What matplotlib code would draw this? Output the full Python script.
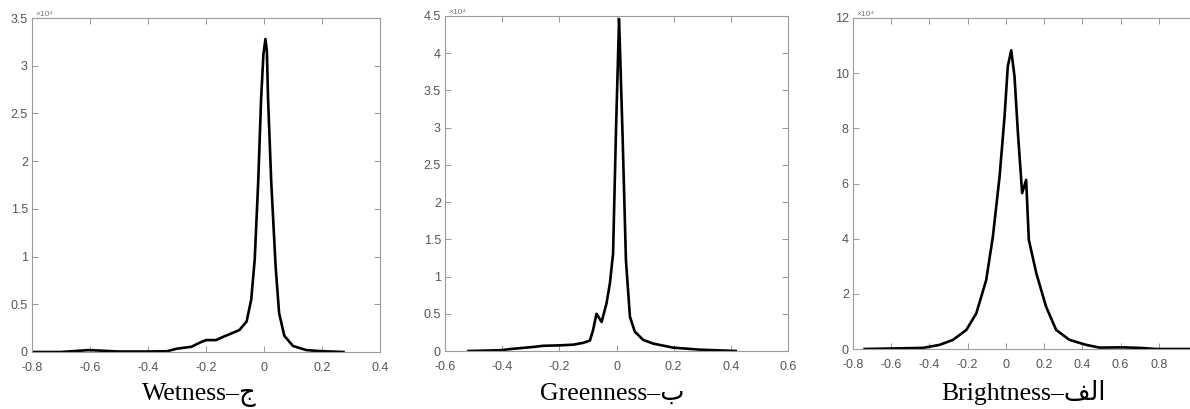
import matplotlib
matplotlib.use('Agg')
import matplotlib.pyplot as plt
import numpy as np

# Wetness (ج)
wet_x = [-0.80, -0.70, -0.604, -0.50, -0.40, -0.335, -0.30, -0.25, -0.22, -0.20,
         -0.165, -0.14, -0.12, -0.085, -0.06, -0.044, -0.032, -0.02, -0.01, -0.002,
         0.005, 0.01, 0.014, 0.025, 0.04, 0.052, 0.07, 0.10, 0.146, 0.19, 0.274]
wet_y = [0.0, 0.0, 0.02, 0.005, 0.005, 0.008, 0.035, 0.055, 0.10, 0.125,
         0.125, 0.16, 0.185, 0.23, 0.32, 0.55, 0.97, 1.78, 2.65, 3.12,
         3.28, 3.15, 2.65, 1.78, 0.90, 0.41, 0.17, 0.063, 0.02, 0.01, 0.0]

# Greenness (ب)
green_x = [-0.518, -0.408, -0.361, -0.29, -0.256, -0.198, -0.151, -0.116, -0.093, -0.082,
           -0.07, -0.052, -0.035, -0.023, -0.012, -0.002, 0.009, 0.021, 0.033, 0.047,
           0.064, 0.093, 0.128, 0.198, 0.291, 0.417]
green_y = [0.0, 0.01, 0.03, 0.055, 0.07, 0.076, 0.085, 0.11, 0.14, 0.28,
           0.50, 0.39, 0.64, 0.91, 1.31, 2.93, 4.46, 2.93, 1.22, 0.46,
           0.26, 0.15, 0.10, 0.045, 0.018, 0.0]

# Brightness (الف)
bright_x = [-0.739, -0.434, -0.347, -0.277, -0.207, -0.155, -0.103, -0.068, -0.033, -0.007,
            0.01, 0.028, 0.045, 0.063, 0.085, 0.106, 0.12, 0.159, 0.21, 0.263,
            0.333, 0.42, 0.49, 0.61, 0.70, 0.786, 1.0]
bright_y = [0.0, 0.04, 0.15, 0.33, 0.69, 1.29, 2.5, 4.08, 6.25, 8.43,
            10.25, 10.83, 9.89, 7.83, 5.65, 6.13, 3.96, 2.75, 1.54, 0.69,
            0.33, 0.15, 0.05, 0.06, 0.04, 0.0, 0.0]

labels = ['Wetness\u2013\u062c', 'Greenness\u2013\u0628', 'Brightness\u2013\ufed2\ufedf\ufe8d']
xlims = [(-0.8, 0.4), (-0.6, 0.6), (-0.8, 1.0)]
ylims = [(0, 3.5), (0, 4.5), (0, 12)]
xticks = [np.arange(-0.8, 0.41, 0.2), np.arange(-0.6, 0.61, 0.2), np.arange(-0.8, 0.81, 0.2)]
yticks = [np.arange(0, 3.51, 0.5), np.arange(0, 4.51, 0.5), np.arange(0, 12.1, 2)]

# axes positions in pixels: left, right, top, bottom
W, H = 1190, 409
boxes = [(32, 380, 18, 352), (445, 788, 16, 351), (853, 1197, 18, 349)]
label_cx = [199, 612, 1024]

fig = plt.figure(figsize=(W / 100, H / 100), dpi=100)

def fmt(v):
    s = ('%g' % round(v, 2))
    return '0' if s in ('-0', '0') else s

series = [(wet_x, wet_y), (green_x, green_y), (bright_x, bright_y)]
for i, (xs, ys) in enumerate(series):
    l, r, t, b = boxes[i]
    ax = fig.add_axes([l / W, (H - b) / H, (r - l) / W, (b - t) / H])
    ax.plot(xs, ys, color='black', lw=1.9, solid_joinstyle='round')
    ax.set_xlim(*xlims[i])
    ax.set_ylim(*ylims[i])
    ax.set_xticks(xticks[i])
    ax.set_yticks(yticks[i])
    ax.set_xticklabels([fmt(v) for v in xticks[i]])
    ax.set_yticklabels([fmt(v) for v in yticks[i]])
    ax.tick_params(direction='in', length=4, width=0.6, color='#8a8a8a',
                   top=True, right=True, labelsize=9, labelcolor='#555555')
    ax.tick_params(axis='x', pad=7)
    ax.tick_params(axis='y', pad=3)
    for lab in ax.get_xticklabels() + ax.get_yticklabels():
        lab.set_family('Liberation Sans')
    for sp in ax.spines.values():
        sp.set_color('#9a9a9a')
        sp.set_linewidth(0.8)
    # exponent label at top-left, mostly cut off by the image edge
    ax.text(0.01, 1.0, '\u00d710\u2074', transform=ax.transAxes, fontsize=6,
            color='#777777', va='bottom', ha='left', family='Liberation Sans')
    fig.text(label_cx[i] / W, 9 / H, labels[i], ha='center', va='baseline',
             fontsize=18.5, family=['Liberation Serif', 'DejaVu Sans'])

fig.savefig('out.png', dpi=100)
